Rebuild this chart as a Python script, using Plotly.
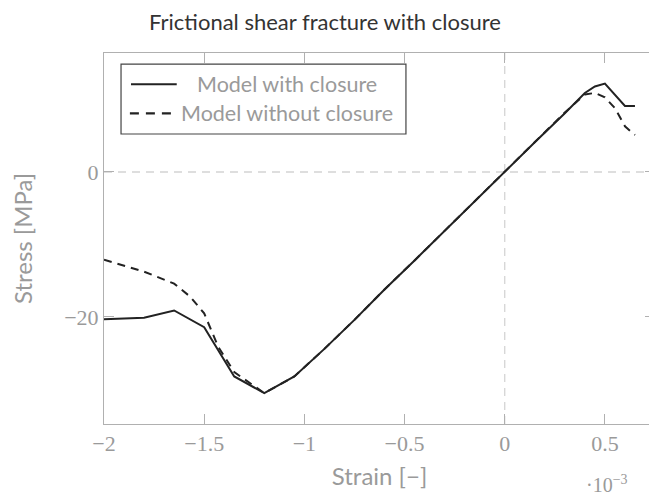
import plotly.graph_objects as go

# Strain values in units of 1e-3, stress in MPa
strain_closure = [-2.0, -1.8, -1.65, -1.5, -1.35, -1.2, -1.05, -0.9, -0.75, -0.6, -0.45,
                  -0.3, -0.15, 0.0, 0.15, 0.3, 0.4, 0.45, 0.5, 0.6, 0.65]
stress_closure = [-20.3, -20.1, -19.1, -21.4, -28.2, -30.5, -28.2, -24.4, -20.4, -16.2, -12.2,
                  -8.1, -4.05, 0.0, 4.1, 8.1, 10.9, 11.8, 12.2, 9.1, 9.1]

strain_open = [-2.0, -1.8, -1.65, -1.57, -1.5, -1.43, -1.35, -1.27, -1.2, -1.05, -0.9, -0.75,
               -0.6, -0.45, -0.3, -0.15, 0.0, 0.15, 0.3, 0.4, 0.45, 0.5, 0.55, 0.6, 0.65]
stress_open = [-12.1, -13.75, -15.4, -17.2, -19.5, -24.1, -27.6, -29.1, -30.5, -28.2, -24.4, -20.4,
               -16.2, -12.2, -8.1, -4.05, 0.0, 4.1, 8.2, 10.7, 10.9, 10.3, 8.8, 6.3, 5.1]

x_ticks = [-2, -1.5, -1, -0.5, 0, 0.5]
x_ticktext = ["\u22122", "\u22121.5", "\u22121", "\u22120.5", "0", "0.5"]
y_ticks = [-20, 0]
y_ticktext = ["\u221220", "0"]

legend_labels = ["Model with closure", "Model without closure"]

SANS = "Lato"
SERIF = "Liberation Serif"
GRAY = "#9a9a9a"
AXIS = "#b0b0b0"
LINE = "#222222"
DASH = "8px,6px"

fig = go.Figure()
fig.add_trace(go.Scatter(x=strain_closure, y=stress_closure, mode="lines",
                         line=dict(color=LINE, width=2), name=legend_labels[0], showlegend=False))
fig.add_trace(go.Scatter(x=strain_open, y=stress_open, mode="lines",
                         line=dict(color=LINE, width=2, dash=DASH), name=legend_labels[1],
                         showlegend=False))

# dashed reference lines at zero
fig.add_shape(type="line", xref="x", yref="paper", x0=0, x1=0, y0=0, y1=1,
              line=dict(color="#d4d4d4", width=1.3, dash="8px,6px"), layer="below")
fig.add_shape(type="line", xref="paper", yref="y", x0=0, x1=1, y0=0, y1=0,
              line=dict(color="#d4d4d4", width=1.3, dash="8px,6px"), layer="below")

# manual legend (centred text, like the reference)
fig.add_shape(type="rect", xref="paper", yref="paper", x0=0.0309, x1=0.548, y0=0.7817, y1=0.970,
              line=dict(color="#444444", width=1.2), fillcolor="white", layer="above")
fig.add_shape(type="line", xref="paper", yref="paper", x0=0.049, x1=0.132, y0=0.9156, y1=0.9156,
              line=dict(color=LINE, width=2))
fig.add_shape(type="line", xref="paper", yref="paper", x0=0.047, x1=0.125, y0=0.8375, y1=0.8375,
              line=dict(color=LINE, width=2.2, dash="9px,7px"))
for label, yy in zip(legend_labels, [0.9156, 0.8375]):
    fig.add_annotation(text=label, xref="paper", yref="paper", x=0.333, y=yy,
                       xanchor="center", yanchor="middle", showarrow=False,
                       font=dict(family=SANS, size=21.5, color=GRAY))

fig.add_annotation(text="\u00b710<sup>\u22123</sup>", xref="paper", yref="paper",
                   x=0.913, y=-0.162, xanchor="center", yanchor="middle", showarrow=False,
                   font=dict(family=SERIF, size=20, color=GRAY))

# the page body has an 8px margin, so the figure is a little smaller and offset
fig.update_layout(
    width=649, height=490,
    margin=dict(l=96, r=2, t=45, b=74, autoexpand=False),
    paper_bgcolor="white", plot_bgcolor="white",
    title=dict(text="Frictional shear fracture with closure", x=(325 - 8) / 649, xanchor="center",
               y=1 - 14 / 490, yanchor="middle", yref="container",
               font=dict(family=SANS, size=22, color="#333333")),
    xaxis=dict(range=[-2, 0.75], tickvals=x_ticks, ticktext=x_ticktext,
               ticks="inside", ticklen=10, tickcolor=AXIS, tickwidth=1,
               showline=True, linecolor=AXIS, linewidth=1, mirror="ticks",
               showgrid=False, zeroline=False, automargin=False,
               tickfont=dict(family=SERIF, size=22, color=GRAY),
               title=dict(text="Strain [\u2212]", font=dict(family=SANS, size=24, color=GRAY),
                          standoff=12)),
    yaxis=dict(range=[-34.76, 16.41], tickvals=y_ticks, ticktext=y_ticktext,
               ticks="inside", ticklen=10, tickcolor=AXIS, tickwidth=1,
               showline=True, linecolor=AXIS, linewidth=1, mirror="ticks",
               showgrid=False, zeroline=False, automargin=False,
               tickfont=dict(family=SERIF, size=22, color=GRAY),
               title=dict(text="Stress [MPa]", font=dict(family=SANS, size=24, color=GRAY),
                          standoff=24)),
)

fig.write_html("out.html")
